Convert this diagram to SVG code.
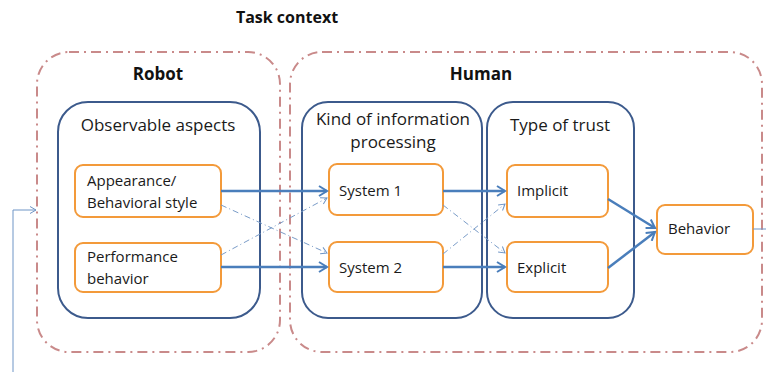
<svg xmlns="http://www.w3.org/2000/svg" width="766" height="372" viewBox="0 0 766 372">
<defs>
<marker id="big" markerWidth="12" markerHeight="12" refX="10" refY="6" orient="auto" markerUnits="userSpaceOnUse"><path d="M2,1 L10,6 L2,11" fill="none" stroke="#4a7ebb" stroke-width="2"/></marker>
<marker id="small" markerWidth="10" markerHeight="10" refX="8" refY="5" orient="auto" markerUnits="userSpaceOnUse"><path d="M2,1.5 L8,5 L2,8.5" fill="none" stroke="#6f95c6" stroke-width="1"/></marker>
</defs>
<style>
.ctx{fill:none;stroke:#c98a8a;stroke-width:2;stroke-dasharray:10 5 2 5}
.grp{fill:#fff;stroke:#3c5a8c;stroke-width:2}
.nd{fill:#fff;stroke:#f39a3a;stroke-width:2}
.t{font-family:"Open Sans","Liberation Sans",sans-serif;font-size:15px;fill:#1a1a1a}
.g{font-family:"Open Sans","Liberation Sans",sans-serif;font-size:17px;fill:#1a1a1a}
.b{font-family:"Open Sans","Liberation Sans",sans-serif;font-size:17px;font-weight:bold;fill:#111}
.main{stroke:#4a7ebb;stroke-width:2.5;fill:none}
.dd{stroke:#7a9cc8;stroke-width:1;fill:none;stroke-dasharray:6 3 1 3}
</style>
<text class="b" x="287" y="23" text-anchor="middle" style="font-size:16px">Task context</text>
<g id="robot"><rect class="ctx" x="37" y="52" width="243" height="300" rx="32"/><text class="b" x="158" y="80" text-anchor="middle">Robot</text></g>
<g id="human"><rect class="ctx" x="290" y="52" width="472" height="300" rx="32"/><text class="b" x="481" y="80" text-anchor="middle">Human</text></g>
<g id="observable"><rect class="grp" x="58" y="102" width="202" height="216" rx="30"/><text class="g" x="158" y="131" text-anchor="middle">Observable aspects</text></g>
<g id="kind"><rect class="grp" x="302" y="102" width="180" height="216" rx="26"/><text class="g" x="393" y="125" text-anchor="middle">Kind of information</text><text class="g" x="393" y="148" text-anchor="middle">processing</text></g>
<g id="type"><rect class="grp" x="487" y="102" width="147" height="216" rx="26"/><text class="g" x="560" y="131" text-anchor="middle">Type of trust</text></g>
<g id="appearance"><rect class="nd" x="75" y="165" width="146" height="52" rx="8"/><text class="t" x="87" y="186">Appearance/</text><text class="t" x="87" y="208">Behavioral style</text></g>
<g id="performance"><rect class="nd" x="75" y="243" width="146" height="49" rx="8"/><text class="t" x="87" y="262">Performance</text><text class="t" x="87" y="284">behavior</text></g>
<g id="system1"><rect class="nd" x="329" y="164" width="114" height="51" rx="8"/><text class="t" x="339" y="196">System 1</text></g>
<g id="system2"><rect class="nd" x="329" y="242" width="114" height="50" rx="8"/><text class="t" x="339" y="273">System 2</text></g>
<g id="implicit"><rect class="nd" x="507" y="165" width="101" height="52" rx="8"/><text class="t" x="517" y="196">Implicit</text></g>
<g id="explicit"><rect class="nd" x="507" y="242" width="101" height="50" rx="8"/><text class="t" x="517" y="273">Explicit</text></g>
<g id="behavior"><rect class="nd" x="657" y="205" width="96" height="49" rx="8"/><text class="t" x="668" y="234">Behavior</text></g>
<g id="connectors">
<path class="main" d="M221,191 H327" marker-end="url(#big)"/>
<path class="main" d="M221,267 H327" marker-end="url(#big)"/>
<path class="main" d="M443,191 H505" marker-end="url(#big)"/>
<path class="main" d="M443,267 H505" marker-end="url(#big)"/>
<path class="main" d="M608,199 L655,228" marker-end="url(#big)"/>
<path class="main" d="M608,268 L655,232" marker-end="url(#big)"/>
<path class="dd" d="M221,205 L327,253" marker-end="url(#small)"/>
<path class="dd" d="M221,255 L327,198" marker-end="url(#small)"/>
<path class="dd" d="M443,205 L505,253" marker-end="url(#small)"/>
<path class="dd" d="M443,254 L505,204" marker-end="url(#small)"/>
<path d="M13,372 V210 H36" fill="none" stroke="#6f95c6" stroke-width="1" marker-end="url(#small)"/>
<path d="M753,229 H766" fill="none" stroke="#6f95c6" stroke-width="1"/>
</g>
</svg>
